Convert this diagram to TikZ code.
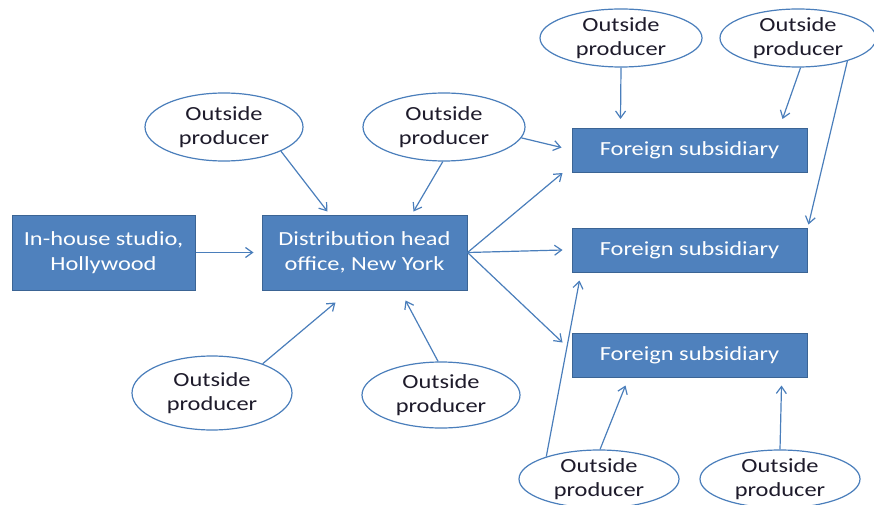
\documentclass[tikz,border=0pt]{standalone}
\usepackage{fontspec}
\setmainfont{Carlito}[FakeStretch=1.22]
\usetikzlibrary{arrows.meta,calc,shapes.geometric}

\definecolor{boxblue}{HTML}{4F81BD}
\definecolor{boxedge}{HTML}{3B6494}
\definecolor{lineblue}{HTML}{4A7EBB}
\definecolor{textdark}{HTML}{1E1B2B}

\begin{document}
\begin{tikzpicture}[x=1pt,y=-1pt,
    >={Straight Barb[length=7pt,width=10pt]},
    office/.style={draw=boxedge, fill=boxblue, line width=1pt, text=white,
        align=center, inner sep=0pt, minimum height=75pt,
        font=\fontsize{20}{25}\selectfont},
    subsidiary/.style={office, minimum width=235pt, minimum height=44pt},
    producer/.style={ellipse, draw=lineblue, fill=white, line width=1.2pt,
        text=textdark, align=center, inner xsep=0pt, inner ysep=-3pt,
        font=\fontsize{20}{24}\selectfont},
    link/.style={->, draw=lineblue, line width=1.2pt}]
\useasboundingbox (0,0) rectangle (874,505);

    % Draw the studio and the head office
    \node[office, minimum width=183pt] (studio) at (103.5,252.5) {In-house studio,\\Hollywood};
    \node[office, minimum width=205pt] (dist) at (364.5,252.5) {Distribution head\\office, New York};

    % Draw the foreign subsidiaries
    \node[subsidiary] (fs1) at (689.5,150.5) {Foreign subsidiary};
    \node[subsidiary] (fs2) at (689.5,250) {Foreign subsidiary};
    \node[subsidiary] (fs3) at (689.5,355) {Foreign subsidiary};

    % Draw the outside producers
    \node[producer, minimum width=158pt, minimum height=68pt] (op1) at (224,127) {Outside\\producer};
    \node[producer, minimum width=162pt, minimum height=68pt] (op2) at (444,127) {Outside\\producer};
    \node[producer, minimum width=162pt, minimum height=58pt] (op3) at (621,38) {Outside\\producer};
    \node[producer, minimum width=156pt, minimum height=58pt] (op4) at (798,38) {Outside\\producer};
    \node[producer, minimum width=160pt, minimum height=74pt] (op5) at (212,393) {Outside\\producer};
    \node[producer, minimum width=158pt, minimum height=66pt] (op6) at (441,395) {Outside\\producer};
    \node[producer, minimum width=160pt, minimum height=58pt] (op7) at (599,479) {Outside\\producer};
    \node[producer, minimum width=160pt, minimum height=58pt] (op8) at (780,479) {Outside\\producer};

    % Draw the arrows into the head office
    \draw[link] (studio) -- ($(dist.west)+(-8,0)$);
    \draw[link] (op1.-23) -- ($(dist.north west)+(66,-3)$);
    \draw[link] (op2.-92) -- ($(dist.north east)+(-54,-3)$);
    \draw[link] (op5.30) -- ($(dist.south west)+(74,12)$);
    \draw[link] (op6.95) -- ($(dist.south east)+(-62,10)$);

    % Draw the arrows out to the subsidiaries
    \draw[link] (dist.east) -- ($(fs1.south west)+(-9,0)$);
    \draw[link] (dist.east) -- ($(fs2.west)+(-9,0)$);
    \draw[link] (dist.east) -- ($(fs3.north west)+(-9,10)$);

    % Draw the arrows from the producers to the subsidiaries
    \draw[link] (op2.-8) -- ($(fs1.west)+(-10,-3)$);
    \draw[link] (op3.south) -- ($(fs1.north)+(-69,-9)$);
    \draw[link] (op4.-85) -- ($(fs1.north east)+(-25,-9)$);
    \draw[link] (op4.-25) -- ($(fs2.north east)+(1,-3)$);
    \draw[link] (op7.157) -- ($(fs2.south west)+(8,8)$);
    \draw[link] (op7.88) -- ($(fs3.south west)+(54,8)$);
    \draw[link] (op8.north) -- ($(fs3.south east)+(-26,8)$);
\end{tikzpicture}
\end{document}
